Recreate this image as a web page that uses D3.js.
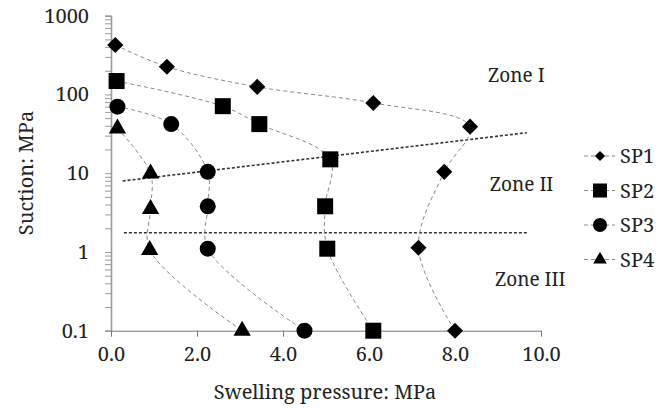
<!DOCTYPE html>
<html>
<head>
<meta charset="utf-8">
<script src="https://cdn.jsdelivr.net/npm/d3@7"></script>
<style>
	body { margin: 0; background: #fff; }
	svg text { font-family: 'Noto Serif', 'Liberation Serif', serif; fill: #222; }
</style>
</head>
<body>
<div id="chart"></div>
<script>
var svgWidth = 660;
var svgHeight = 410;

// series (x = swelling pressure MPa, y = suction MPa)
var seriesNames = ["SP1", "SP2", "SP3", "SP4"];
var sp1X = [0.1, 1.3, 3.4, 6.1, 8.35, 7.75, 7.15, 8.0];
var sp1Y = [425, 225, 125, 78, 39, 10.4, 1.13, 0.1];
var sp2X = [0.13, 2.6, 3.45, 5.1, 4.98, 5.03, 6.1];
var sp2Y = [148, 71, 42, 15, 3.8, 1.1, 0.1];
var sp3X = [0.15, 1.4, 2.25, 2.25, 2.25, 4.5];
var sp3Y = [70, 42, 10.4, 3.8, 1.1, 0.1];
var sp4X = [0.15, 0.92, 0.92, 0.9, 3.05];
var sp4Y = [37, 9.9, 3.5, 1.06, 0.1];

// zone boundaries
var boundX = [0.27, 9.67];
var boundUpperY = [7.96, 32.7];
var boundLowerY = [1.75, 1.75];
var zoneNames = ["Zone I", "Zone II", "Zone III"];
var zoneX = [8.77, 8.81, 8.93];
var zoneY = [177, 7.3, 0.45];

var xTicks = [0, 2, 4, 6, 8, 10];
var yTicks = [0.1, 1, 10, 100, 1000];

var fontFamily = "'Noto Serif', 'Liberation Serif', serif";

var svg = d3.select("#chart")
	.append("svg")
	.attr("width", svgWidth)
	.attr("height", svgHeight);

var xScale = d3.scaleLinear()
	.domain([0, 10])
	.range([111, 541]);

var yScale = d3.scaleLog()
	.domain([0.1, 1000])
	.range([330.7, 15.7]);

// y axis with log minor ticks
var minorTicks = [];
yTicks.slice(0, -1).forEach(function(t) {
	for (var k = 2; k <= 9; k++) minorTicks.push(t * k);
});

var yAxis = svg.append("g")
	.attr("transform", "translate(111,0)")
	.call(d3.axisLeft(yScale).tickValues(yTicks.concat(minorTicks))
		.tickSize(6)
		.tickFormat(function(d) { return yTicks.indexOf(d) >= 0 ? d3.format("~g")(d) : ""; }));
yAxis.attr("font-family", fontFamily).attr("font-size", 20);
yAxis.select(".domain").attr("stroke", "#9a9a9a").attr("stroke-width", 1.6);
yAxis.selectAll(".tick line").attr("stroke", "#9a9a9a");
yAxis.selectAll(".tick text")
	.attr("x", -22)
	.style("font-size", "20px")
	.attr("fill", "#222");

var xAxis = svg.append("g")
	.attr("transform", "translate(0,330.7)")
	.call(d3.axisBottom(xScale).tickValues(xTicks)
		.tickSize(6)
		.tickSizeOuter(0)
		.tickFormat(d3.format(".1f")));
xAxis.attr("font-family", fontFamily).attr("font-size", 20);
xAxis.select(".domain").attr("stroke", "#777");
xAxis.selectAll(".tick line").attr("stroke", "#777");
xAxis.selectAll(".tick text")
	.attr("y", 16)
	.style("font-size", "20px")
	.attr("fill", "#222");

// axis titles
svg.append("text")
	.attr("transform", "translate(33,173) rotate(-90)")
	.attr("text-anchor", "middle")
	.style("font-size", "20px")
	.text("Suction: MPa");

svg.append("text")
	.attr("x", 325)
	.attr("y", 399)
	.attr("text-anchor", "middle")
	.style("font-size", "20px")
	.text("Swelling pressure: MPa");

// zone boundary lines
svg.append("line")
	.attr("x1", xScale(boundX[0]))
	.attr("y1", yScale(boundUpperY[0]))
	.attr("x2", xScale(boundX[1]))
	.attr("y2", yScale(boundUpperY[1]))
	.attr("stroke", "#333")
	.attr("stroke-width", 1.6)
	.attr("stroke-dasharray", "3,2");

svg.append("line")
	.attr("x1", xScale(0.3))
	.attr("y1", yScale(boundLowerY[0]))
	.attr("x2", xScale(boundX[1]))
	.attr("y2", yScale(boundLowerY[1]))
	.attr("stroke", "#333")
	.attr("stroke-width", 1.6)
	.attr("stroke-dasharray", "3,2");

zoneNames.forEach(function(z, i) {
	svg.append("text")
		.attr("x", xScale(zoneX[i]))
		.attr("y", yScale(zoneY[i]))
		.attr("dy", "0.35em")
		.style("font-size", "19px")
		.text(z);
});

// series
var allX = [sp1X, sp2X, sp3X, sp4X];
var allY = [sp1Y, sp2Y, sp3Y, sp4Y];
var shapes = [
	{ type: d3.symbolSquare, size: 130, rotate: 45 },
	{ type: d3.symbolSquare, size: 256, rotate: 0 },
	{ type: d3.symbolCircle, size: 201, rotate: 0 },
	{ type: d3.symbolTriangle, size: 130, rotate: 0 }
];
var legendShapes = [
	{ type: d3.symbolSquare, size: 52, rotate: 45 },
	{ type: d3.symbolSquare, size: 196, rotate: 0 },
	{ type: d3.symbolCircle, size: 154, rotate: 0 },
	{ type: d3.symbolTriangle, size: 80, rotate: 0 }
];

var line = d3.line()
	.x(d => xScale(d[0]))
	.y(d => yScale(d[1]))
	.curve(d3.curveCatmullRom.alpha(0.5));

seriesNames.forEach(function(name, i) {
	var pts = allX[i].map(function(x, j) { return [x, allY[i][j]]; });

	svg.append("path")
		.datum(pts)
		.attr("d", line)
		.attr("fill", "none")
		.attr("stroke", "#8a8a8a")
		.attr("stroke-width", 1)
		.attr("stroke-dasharray", "4,3");

	svg.selectAll(".m" + i)
		.data(pts)
		.enter()
		.append("path")
		.attr("class", "m" + i)
		.attr("d", d3.symbol().type(shapes[i].type).size(shapes[i].size))
		.attr("transform", d => `translate(${xScale(d[0])},${yScale(d[1])}) rotate(${shapes[i].rotate})`)
		.attr("fill", "#000");

	// legend
	var ly = 156 + i * 34.5;
	var lg = svg.append("g").attr("transform", `translate(600,${ly})`);
	lg.append("line")
		.attr("x1", -16).attr("x2", 15)
		.attr("stroke", "#8a8a8a")
		.attr("stroke-dasharray", "4,3");
	lg.append("path")
		.attr("d", d3.symbol().type(legendShapes[i].type).size(legendShapes[i].size))
		.attr("transform", `rotate(${legendShapes[i].rotate})`)
		.attr("fill", "#000");
	lg.append("text")
		.attr("x", 20)
		.attr("dy", "0.35em")
		.style("font-size", "20px")
		.text(name);
});
</script>
</body>
</html>
